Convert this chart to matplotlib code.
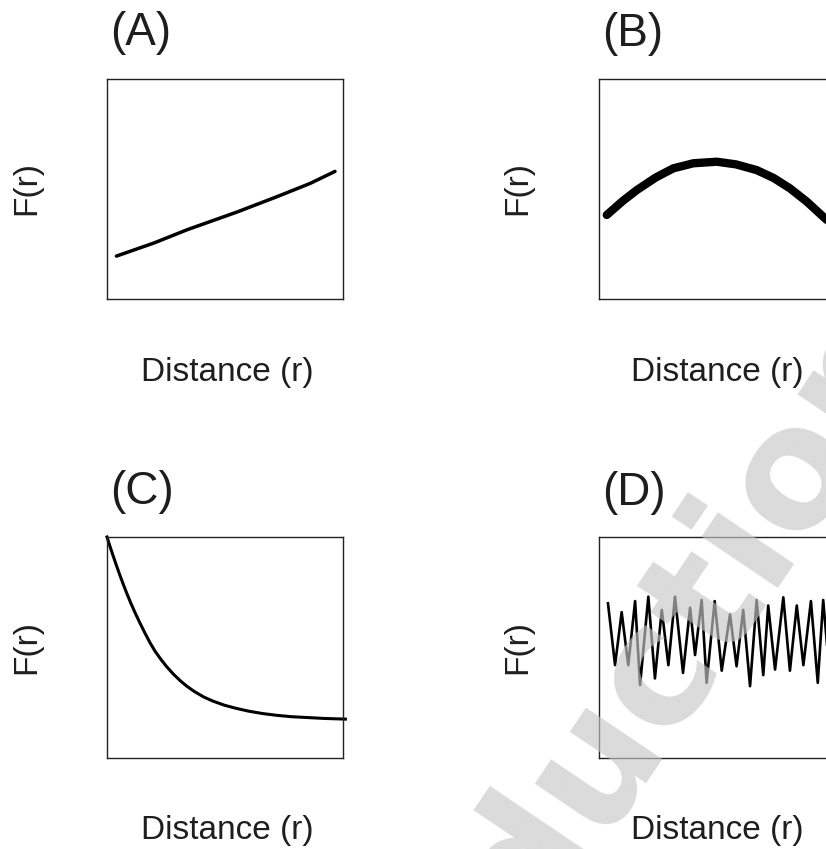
import matplotlib.pyplot as plt

plt.rcParams['font.family'] = ['Liberation Sans', 'DejaVu Sans']

W, H = 826, 849

panel_labels = ['(A)', '(B)', '(C)', '(D)']
x_label = 'Distance (r)'
y_label = 'F(r)'

# curves, on a 0-1 scale inside each box
line_x = [0.04, 0.20, 0.34, 0.55, 0.72, 0.86, 0.966]
line_y = [0.195, 0.255, 0.315, 0.395, 0.465, 0.525, 0.58]

arc_x = [0.033, 0.10, 0.16, 0.24, 0.315, 0.40, 0.499, 0.58, 0.668, 0.74, 0.809, 0.88, 0.95, 0.97]
arc_y = [0.382, 0.445, 0.495, 0.552, 0.594, 0.617, 0.624, 0.612, 0.586, 0.550, 0.503, 0.443, 0.374, 0.355]

decay_x = [0.0, 0.01, 0.025, 0.04, 0.055, 0.07, 0.085, 0.10, 0.12, 0.14, 0.16, 0.182,
	0.205, 0.23, 0.253, 0.28, 0.31, 0.338, 0.37, 0.41, 0.45, 0.50, 0.55, 0.60,
	0.66, 0.72, 0.78, 0.85, 0.92, 1.01]
decay_y = [1.0, 0.966, 0.918, 0.871, 0.826, 0.783, 0.742, 0.703, 0.655, 0.61, 0.567, 0.522,
	0.481, 0.444, 0.413, 0.381, 0.350, 0.325, 0.301, 0.276, 0.257, 0.238, 0.224, 0.212,
	0.201, 0.193, 0.187, 0.183, 0.179, 0.176]

wave_x = [0.038, 0.068, 0.096, 0.124, 0.153, 0.174, 0.209, 0.237, 0.266, 0.294,
	0.322, 0.356, 0.386, 0.407, 0.435, 0.456, 0.49, 0.52, 0.555, 0.583,
	0.611, 0.64, 0.668, 0.696, 0.717, 0.746, 0.781, 0.809, 0.838, 0.866,
	0.898, 0.927, 0.95, 0.975]
wave_y = [0.70, 0.42, 0.66, 0.42, 0.71, 0.33, 0.73, 0.36, 0.67, 0.42,
	0.73, 0.385, 0.68, 0.466, 0.715, 0.34, 0.71, 0.395, 0.65, 0.415,
	0.67, 0.325, 0.715, 0.375, 0.69, 0.40, 0.727, 0.395, 0.69, 0.42,
	0.71, 0.34, 0.715, 0.40]

TEXT = '#1e1e1e'


# box turns pixel edges into a figure rect
def box(left, top, right, bottom):
	return [left / W, 1 - bottom / H, (right - left) / W, (bottom - top) / H]


# at places text by pixel position
def at(x, y):
	return x / W, 1 - y / H


def make_panel(fig, rect, label, title_xy, xlab_xy, ylab_xy):
	ax = fig.add_axes(rect)
	ax.set_xlim(0, 1)
	ax.set_ylim(0, 1)
	ax.set_xticks([])
	ax.set_yticks([])
	for s in ax.spines.values():
		s.set_linewidth(1.0)
		s.set_color('#222222')
	fig.text(*at(*title_xy), label, fontsize=33, ha='left', va='center', color=TEXT)
	fig.text(*at(*xlab_xy), x_label, fontsize=24, ha='center', va='center', color=TEXT)
	fig.text(*at(*ylab_xy), y_label, fontsize=24, ha='center', va='center',
		rotation=90, color=TEXT)
	return ax


def main():
	fig = plt.figure(figsize=(W / 100, H / 100), dpi=100)

	ax_a = make_panel(fig, box(107, 79, 343, 299), panel_labels[0], (110, 33), (227, 373), (27, 188))
	ax_b = make_panel(fig, box(599, 79, 835, 299), panel_labels[1], (602, 34), (717, 373), (518, 188))
	ax_c = make_panel(fig, box(107, 537, 343, 758), panel_labels[2], (110, 492), (227, 831), (27, 647))
	ax_d = make_panel(fig, box(599, 537, 835, 758), panel_labels[3], (602, 493), (717, 830), (518, 647))

	ax_a.plot(line_x, line_y, color='black', lw=2.5, solid_capstyle='round')
	ax_b.plot(arc_x, arc_y, color='black', lw=6, solid_capstyle='round')
	ax_c.plot(decay_x, decay_y, color='black', lw=2.2, clip_on=False)
	ax_d.plot(wave_x, wave_y, color='black', lw=1.9, solid_joinstyle='round')

	# faint watermark across the right half
	fig.text(*at(927, 347), 'reproduction', rotation=56, rotation_mode='anchor',
		ha='right', va='baseline', fontsize=120, fontweight='bold',
		family='DejaVu Sans', color='0.78', alpha=0.65, zorder=10)

	fig.savefig('out.png', dpi=100)


if __name__ == '__main__':
	main()
